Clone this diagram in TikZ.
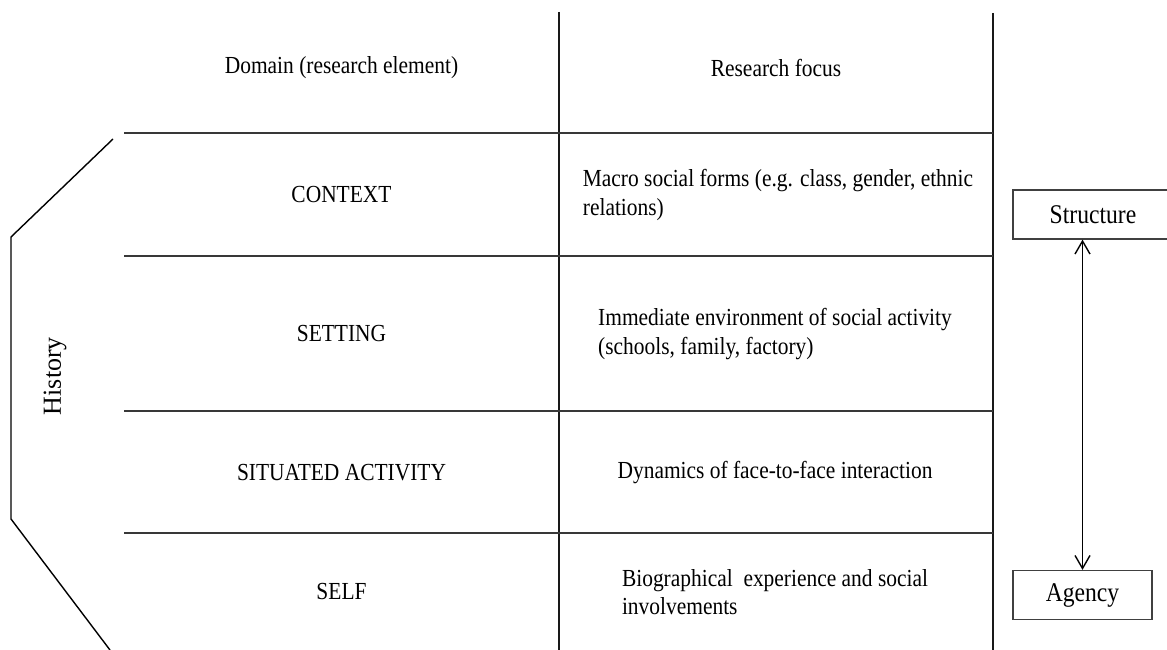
\documentclass[tikz,border=0pt]{standalone}
\usepackage{fontspec}
\setmainfont{Liberation Serif}[FakeStretch=0.875]
\newfontfamily\histfont{Liberation Serif}
\usetikzlibrary{arrows.meta}
\begin{document}
\begin{tikzpicture}[x=1pt,y=-1pt,
  hline/.style={line width=1.8pt, draw=black!78},
  vline/.style={line width=1.5pt, draw=black!90},
  brk/.style={line width=1.4pt, draw=black, line join=miter},
  cell/.style={font=\fontsize{24.5}{28.5}\selectfont, align=center, inner sep=0pt},
  focus/.style={font=\fontsize{24.5}{28.5}\selectfont, align=left, inner sep=0pt},
  endbox/.style={draw=black!75, line width=1.3pt, minimum height=49pt, font=\fontsize{27}{30}\selectfont, inner sep=0pt},
  link/.style={line width=1.4pt, {Straight Barb[length=13pt,width=15pt,line width=1.4pt]}-{Straight Barb[length=13pt,width=15pt,line width=1.4pt]}}
]
\useasboundingbox (0,0) rectangle (1167,650);
% table lines
\draw[vline] (559,12) -- (559,650);
\draw[vline] (993,13) -- (993,650);
\foreach \yy in {133,256,411,533} \draw[hline] (124,\yy) -- (993,\yy);
% history bracket
\draw[brk] (113,139) -- (11,237) -- (11,519) -- (110,650);
\node[rotate=90, inner sep=0pt, font=\histfont\fontsize{26}{30}\selectfont] (hist) at (55,376) {History};
% headers
\node[cell] (hdom) at (341.5,68) {Domain (research element)};
\node[cell] (hfoc) at (776,68) {Research focus};
% rows
\node[cell] (dctx) at (341.5,195) {CONTEXT};
\node[cell] (dset) at (341.5,334) {SETTING};
\node[cell] (dsit) at (341.5,472.5) {SITUATED ACTIVITY};
\node[cell] (dself) at (341.5,592) {SELF};
\node[focus] (fctx) at (778,195) {Macro social forms (e.g. class, gender, ethnic\\relations)};
\node[focus] (fset) at (775,334) {Immediate environment of social activity\\(schools, family, factory)};
\node[focus] (fsit) at (775,472.5) {Dynamics of face-to-face interaction};
\node[focus] (fself) at (775,592) {Biographical\ \ experience and social\\involvements};
% structure / agency
\node[endbox, minimum width=160pt] (struct) at (1093,214.5) {Structure};
\node[endbox, minimum width=139pt] (agency) at (1082.5,595) {Agency};
\draw[link] (agency.north |- struct.south) -- (agency.north);
\end{tikzpicture}
\end{document}
